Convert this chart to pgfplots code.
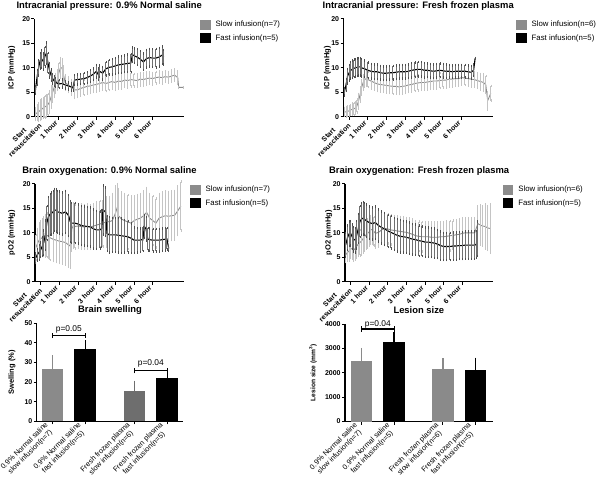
\documentclass[border=0pt]{standalone}
\usepackage{pgfplots}
\pgfplotsset{compat=1.18}
\usepackage{pgfplotstable}
\usepackage{fontspec}
\setmainfont{Liberation Sans}
\definecolor{slowline}{HTML}{8C8C8C}
\definecolor{slowerr}{HTML}{C4C4C4}
\definecolor{fasterr}{HTML}{707070}
\definecolor{slowbar}{HTML}{8A8A8A}
\definecolor{slowbarB}{HTML}{6E6E6E}

\pgfplotstableread{
t v e
-15 5.5 0.8
-10 8.0 1.5
-5 10.0 1.6
0 11.5 1.6
5 11.8 1.8
10 11.3 1.6
15 12.3 2.0
20 13.0 2.2
25 11.0 2.0
30 9.5 1.5
35 8.5 1.2
40 7.8 1.0
45 7.3 1.0
50 7.0 0.9
60 6.7 0.8
70 6.8 0.8
80 6.5 0.7
90 6.3 0.7
100 6.1 0.7
105 6.0 0.6
110 7.5 1.0
120 7.6 1.0
130 7.7 1.0
140 7.8 1.1
150 8.0 1.1
160 8.3 1.2
170 8.7 1.2
180 9.3 1.3
185 8.7 1.2
190 9.3 1.2
200 8.9 1.3
210 9.8 1.4
220 10.1 1.5
230 10.2 1.6
240 10.4 1.6
250 10.6 1.7
260 10.7 1.7
270 10.8 1.7
280 10.9 1.8
290 11.0 1.8
295 12.7 1.5
300 12.5 1.5
310 12.2 1.6
320 11.8 1.6
330 11.2 1.7
340 11.9 1.8
350 12.1 1.8
360 12.0 1.8
370 12.0 1.9
380 12.2 1.9
390 12.6 1.8
395 12.2 1.5
}\icpNSfast

\pgfplotstableread{
t v e
-15 0.5 1.2
-10 0.8 1.5
-5 1.0 1.8
0 1.3 2.0
5 1.5 2.0
10 1.8 2.0
15 2.0 2.2
20 2.2 2.2
25 2.5 2.2
30 3.0 2.2
35 4.0 2.2
40 5.0 2.0
45 6.0 2.0
50 6.8 2.0
55 7.5 2.0
60 9.0 2.0
65 10.0 2.0
70 10.0 1.8
75 8.5 1.8
80 7.0 1.5
90 6.5 1.5
100 6.0 1.5
110 5.5 1.7
120 5.5 1.5
130 5.8 1.5
140 6.0 1.5
150 6.2 1.5
160 6.3 1.5
170 6.5 1.5
180 6.6 1.5
190 6.8 1.5
200 7.0 1.5
210 6.8 1.6
220 7.0 1.5
230 7.2 1.5
240 7.0 1.5
250 7.3 1.5
260 7.2 1.4
270 7.5 1.4
280 7.4 1.4
290 7.6 1.4
300 7.5 1.3
310 7.4 1.3
320 7.7 1.3
330 7.6 1.3
340 7.8 1.3
350 7.9 1.2
360 7.8 1.2
370 8.0 1.2
380 8.1 1.2
390 8.0 1.2
400 8.2 1.1
410 8.1 1.1
420 8.3 1.2
430 8.5 1.2
440 8.0 1.3
443 6.0 0
457 6.0 0
}\icpNSslow

\pgfplotstableread{
t v e
-15 5.1 0.8
-10 6.5 1.2
-5 8.3 1.5
0 9.0 1.6
5 9.5 1.7
10 9.7 1.8
15 9.9 1.8
20 10.0 1.8
25 10.1 1.8
30 10.2 1.8
35 10.2 1.8
40 10.0 1.8
50 9.8 1.7
60 9.5 1.6
70 9.3 1.5
80 9.2 1.5
90 9.2 1.5
100 9.0 1.4
110 8.9 1.4
120 8.9 1.4
130 9.0 1.4
140 9.0 1.4
150 9.1 1.4
160 9.2 1.4
170 9.2 1.4
180 9.2 1.4
190 9.3 1.4
200 9.5 1.5
210 9.6 1.5
220 9.7 1.5
230 9.7 1.5
240 9.5 1.5
250 9.5 1.4
260 9.4 1.4
270 9.3 1.4
280 9.4 1.4
290 9.5 1.4
300 9.4 1.4
310 9.3 1.4
320 9.3 1.3
330 9.2 1.3
340 9.3 1.3
350 9.3 1.3
360 9.3 1.3
370 9.3 1.3
380 9.2 1.3
390 9.1 1.3
398 9.5 1.2
403 12.0 0
}\icpFFPfast

\pgfplotstableread{
t v e
-15 1.0 0.8
-10 1.0 1.0
-5 1.1 1.0
0 1.2 1.0
5 1.4 1.0
10 1.5 1.2
15 1.6 1.2
20 1.8 1.2
25 2.2 1.3
30 3.2 1.5
35 4.5 1.5
40 6.0 1.5
45 7.0 1.5
50 7.6 1.5
55 7.8 1.5
60 7.6 1.5
70 7.3 1.5
80 7.0 1.5
90 6.7 1.5
100 6.6 1.5
110 6.5 1.5
120 6.4 1.5
130 6.3 1.5
140 6.2 1.5
150 6.2 1.5
160 6.1 1.5
170 6.2 1.5
180 6.3 1.5
190 6.5 1.5
200 6.6 1.5
210 6.8 1.5
220 6.9 1.5
230 7.0 1.5
240 7.0 1.5
250 7.1 1.5
260 7.2 1.5
270 7.3 1.5
280 7.3 1.5
290 7.4 1.5
300 7.5 1.5
310 7.5 1.5
320 7.7 1.5
330 7.7 1.5
340 7.8 1.5
350 7.8 1.4
360 8.0 1.4
370 7.9 1.4
380 7.8 1.5
390 7.7 1.5
400 7.6 1.5
410 7.4 1.5
420 7.2 1.6
430 7.0 1.7
437 6.5 1.8
443 3.3 1.8
453 4.8 1.5
}\icpFFPslow

\pgfplotstableread{
t v e
-16 4.8 1.0
-11 5.5 1.2
-5 6.0 1.5
0 6.5 1.5
5 7.2 2.0
10 8.0 2.5
15 9.5 3.0
20 12.0 3.5
25 13.3 4.0
30 13.8 4.2
35 14.0 4.3
40 14.3 4.3
45 14.7 4.3
50 14.6 4.3
55 14.3 4.3
60 14.2 4.3
70 14.0 4.3
80 14.3 4.3
90 13.5 4.2
95 12.3 4.2
100 12.0 4.1
110 12.0 4.1
120 11.8 4.0
130 11.5 4.0
140 11.4 4.0
150 11.3 4.0
160 11.2 4.0
170 10.8 4.0
180 10.6 3.9
190 10.6 3.8
196 10.9 3.8
200 14.7 5.0
208 14.3 5.0
213 9.9 3.6
220 9.6 3.6
230 9.6 3.5
240 9.6 3.5
250 9.5 3.5
260 9.4 3.5
270 9.3 3.3
280 9.2 3.2
290 8.9 3.0
300 8.5 2.6
310 8.5 2.5
320 8.5 2.4
328 8.7 2.4
333 11.3 2.4
338 10.8 2.4
344 8.7 2.3
350 8.6 2.3
360 8.5 2.3
370 8.5 2.3
380 8.5 2.3
390 8.6 2.3
400 8.7 2.3
405 8.8 2.2
411 6.8 0.5
}\oxNSfast

\pgfplotstableread{
t v e
-15 7.0 2.5
-10 7.8 3.0
-5 8.5 3.5
0 8.8 3.5
5 9.0 3.8
10 9.2 4.0
15 9.4 4.3
20 9.5 4.5
25 9.3 4.5
30 9.0 4.5
40 8.7 4.5
50 8.5 4.5
60 8.3 4.5
70 8.2 4.5
80 8.0 4.5
90 7.5 4.5
95 7.3 4.5
100 10.8 4.5
105 11.5 4.5
110 11.3 4.5
120 11.4 4.5
130 11.3 4.5
140 11.2 4.5
150 11.3 4.5
160 11.2 4.5
170 11.4 4.5
180 11.6 4.6
190 11.8 4.7
200 12.0 4.8
210 12.2 5.0
220 12.3 5.0
230 12.5 5.5
240 14.0 5.5
245 15.0 5.0
250 13.5 5.5
260 12.8 5.5
270 12.5 5.5
280 12.2 5.5
290 12.0 5.5
300 12.5 5.0
310 12.8 5.0
320 13.0 5.0
330 13.5 5.0
340 14.2 5.0
350 13.0 5.0
360 12.5 5.0
370 12.0 5.0
380 13.0 5.0
390 13.3 5.0
400 13.5 5.0
410 13.4 5.0
420 13.5 5.0
430 13.6 5.0
440 14.5 5.0
450 15.5 5.0
}\oxNSslow

\pgfplotstableread{
t v e
-16 7.5 2.5
-10 9.0 2.5
-5 9.8 2.5
0 9.9 2.5
5 9.2 2.5
10 8.7 2.5
15 8.5 2.5
20 9.6 2.8
25 10.9 3.0
30 12.3 3.2
35 12.8 3.3
40 13.0 3.3
45 12.8 3.3
50 12.5 3.3
60 12.1 3.3
70 11.9 3.3
80 12.1 3.3
90 11.5 3.3
100 11.1 3.3
110 10.8 3.3
120 10.4 3.3
130 10.1 3.3
140 9.8 3.3
150 9.5 3.3
160 9.3 3.3
170 9.2 3.2
180 9.1 3.2
190 8.9 3.2
200 8.7 3.1
210 8.6 3.1
220 8.4 3.1
230 8.3 3.0
240 8.1 3.0
250 8.1 3.0
260 8.0 3.0
270 7.9 3.0
280 7.7 2.9
290 7.4 2.9
300 7.2 2.8
310 7.2 2.8
320 7.2 2.8
330 7.3 2.8
340 7.3 2.8
350 7.4 2.8
360 7.4 2.8
370 7.5 2.8
380 7.5 2.8
390 7.5 2.8
400 7.5 2.8
405 7.6 2.8
408 8.8 3.5
}\oxFFPfast

\pgfplotstableread{
t v e
-16 5.5 1.5
-10 6.0 1.8
-5 6.3 2.0
0 6.8 2.0
5 6.7 2.0
10 6.5 2.2
15 6.8 2.3
20 7.3 2.5
25 7.7 2.5
30 8.0 2.6
35 8.3 2.7
40 8.8 2.8
45 9.2 2.8
50 9.6 2.8
55 9.9 2.9
60 10.2 2.9
65 10.6 2.9
70 10.7 2.9
75 10.3 2.9
80 9.9 2.9
90 10.1 2.9
100 10.6 2.9
110 10.9 3.0
120 10.8 3.0
130 10.6 3.0
140 10.5 3.0
150 10.4 3.0
160 10.3 3.0
170 10.2 3.0
180 10.1 3.0
190 9.9 3.0
200 9.7 3.0
210 9.4 3.0
220 9.3 3.0
230 9.2 3.0
240 9.2 3.0
250 9.2 3.0
260 9.1 3.0
270 9.1 3.0
280 9.1 3.0
290 9.2 3.0
300 9.2 3.0
310 9.3 3.0
320 9.4 3.0
330 9.5 3.0
340 9.6 3.0
350 9.7 3.0
360 9.9 3.0
370 10.0 3.0
380 10.0 3.0
390 10.0 3.0
400 10.0 3.0
410 11.9 3.5
418 11.6 4.0
425 11.4 4.0
434 11.3 4.5
442 11.0 4.5
450 10.9 5.0
}\oxFFPslow

\pgfplotsset{
  prism/.style={
    scale only axis,
    axis x line*=bottom, axis y line*=left,
    axis line style={line width=1.1pt, black},
    tick align=outside,
    major tick length=3pt,
    every tick/.style={line width=1.0pt, black},
    tick label style={font=\bfseries\fontsize{7}{8}\selectfont},
    yticklabel style={inner xsep=1.2pt},
    /pgf/number format/assume math mode=true,
    /pgf/number format/1000 sep={},
    title style={font=\bfseries\fontsize{9.4}{11}\selectfont, at={(0.5,1)}, anchor=base, yshift=4.7pt},
    ylabel style={font=\bfseries\fontsize{7.5}{9}\selectfont, anchor=center},
    clip=false,
  },
  timeaxis/.style={prism,
    width=149.5pt, height=97.7pt,
    xmin=-18, xmax=460, ymin=0, ymax=20,
    xtick={0,60,120,180,240,300,360},
    xticklabels={{Start\\resuscitation},1 hour,2 hour,3 hour,4 hour,5 hour,6 hour},
    xticklabel style={rotate=45, anchor=east, align=center},
    ytick={0,5,10,15,20},
    legend style={draw=none, fill=none, anchor=north west, inner sep=0pt,
      font=\fontsize{7.8}{9}\selectfont, row sep=2.5pt},
    legend cell align=left,
  },
  baraxis/.style={prism,
    xtick={0,1,2.5,3.5},
    xticklabels={{0.9\% Normal saline\\slow infusion(n=7)},{0.9\% Normal saline\\fast infusion(n=5)},{Fresh frozen plasma\\slow infusion(n=6)},{Fresh frozen plasma\\fast infusion(n=5)}},
    xticklabel style={rotate=45, anchor=east, align=center, font=\fontsize{7.3}{8.3}\selectfont},
    bar width=21.5pt,
  },
  slowplot/.style={color=slowline, line width=0.9pt, no markers, forget plot,
    error bars/.cd, y dir=both, y explicit,
    error bar style={color=slowerr, line width=0.95pt},
    error mark options={color=slowerr, mark size=1.2pt, line width=0.6pt}},
  fastplot/.style={color=black, line width=1.1pt, no markers, forget plot,
    error bars/.cd, y dir=both, y explicit,
    error bar style={color=fasterr, line width=0.9pt},
    error mark options={color=fasterr!70!black, mark size=1.2pt, line width=0.6pt}},
  barplot/.style={ybar, bar shift=0pt, fill=#1, draw=none, forget plot,
    error bars/.cd, y dir=plus, y explicit,
    error bar style={color=#1, line width=1.3pt},
    error mark options={color=#1, mark size=5.5pt, line width=1.3pt}},
  bracket/.style={sharp plot, black, line width=1.1pt, unbounded coords=jump, no markers, forget plot},
  slowleg/.style={legend image code/.code={\fill[slowline, draw=none] (0pt,-5pt) rectangle (10.5pt,5pt); \path[draw=none, fill=none] (0pt,0pt) -- (13.5pt,0pt);}},
  fastleg/.style={legend image code/.code={\fill[black, draw=none] (0pt,-5pt) rectangle (10.5pt,5pt); \path[draw=none, fill=none] (0pt,0pt) -- (13.5pt,0pt);}},
}

\begin{document}
\begin{tikzpicture}
\useasboundingbox (0pt,0pt) rectangle (600pt,488pt);

% Panel 1: ICP normal saline
\begin{axis}[timeaxis, at={(34.5pt,371.3pt)}, anchor=south west,
  title={Intracranial pressure: 0.9\% Normal saline}, title style={yshift=-0.5pt},
  ylabel={ICP (mmHg)}, ylabel style={at={(axis description cs:-0.1525,0.5)}},
  legend style={at={(1.107,1)}}]
\addplot[slowplot] table[x=t, y=v, y error=e] {\icpNSslow};
\addplot[fastplot] table[x=t, y=v, y error=e] {\icpNSfast};
\addlegendimage{slowleg}
\addlegendentry{Slow infusion(n=7)}
\addlegendimage{fastleg}
\addlegendentry{Fast infusion(n=5)}
\end{axis}

% Panel 2: ICP FFP
\begin{axis}[timeaxis, at={(343.5pt,371.3pt)}, anchor=south west,
  title={Intracranial pressure: Fresh frozen plasma}, title style={yshift=-0.5pt},
  ylabel={ICP (mmHg)}, ylabel style={at={(axis description cs:-0.108,0.5)}},
  legend style={at={(1.154,1)}}]
\addplot[slowplot] table[x=t, y=v, y error=e] {\icpFFPslow};
\addplot[fastplot] table[x=t, y=v, y error=e] {\icpFFPfast};
\addlegendimage{slowleg}
\addlegendentry{Slow infusion(n=6)}
\addlegendimage{fastleg}
\addlegendentry{Fast infusion(n=5)}
\end{axis}

% Panel 3: pO2 normal saline
\begin{axis}[timeaxis, at={(35pt,206.3pt)}, anchor=south west, width=149pt,
  title={Brain oxygenation: 0.9\% Normal saline},
  ylabel={pO2 (mmHg)}, ylabel style={at={(axis description cs:-0.156,0.5)}},
  legend style={at={(1.04,1)}}]
\addplot[slowplot] table[x=t, y=v, y error=e] {\oxNSslow};
\addplot[fastplot] table[x=t, y=v, y error=e] {\oxNSfast};
\addlegendimage{slowleg}
\addlegendentry{Slow infusion(n=7)}
\addlegendimage{fastleg}
\addlegendentry{Fast infusion(n=5)}
\end{axis}

% Panel 4: pO2 FFP
\begin{axis}[timeaxis, at={(345pt,206.3pt)}, anchor=south west, width=148.3pt,
  title={Brain oxygenation: Fresh frozen plasma},
  ylabel={pO2 (mmHg)}, ylabel style={at={(axis description cs:-0.11,0.5)}},
  legend style={at={(1.063,1)}}]
\addplot[slowplot] table[x=t, y=v, y error=e] {\oxFFPslow};
\addplot[fastplot] table[x=t, y=v, y error=e] {\oxFFPfast};
\addlegendimage{slowleg}
\addlegendentry{Slow infusion(n=6)}
\addlegendimage{fastleg}
\addlegendentry{Fast infusion(n=5)}
\end{axis}

% Panel 5: Brain swelling
\begin{axis}[baraxis, at={(36.7pt,66.7pt)}, anchor=south west,
  width=146.6pt, height=98pt, xmin=-0.48, xmax=3.99, ymin=0, ymax=50,
  ytick={0,10,20,30,40,50},
  title={Brain swelling},
  ylabel={Swelling (\%)}, ylabel style={at={(axis description cs:-0.168,0.5)}}]
\addplot[barplot=slowbar] coordinates {(0,26.6) +- (0,4.3)};
\addplot[barplot=black] coordinates {(1,36.9) +- (0,1.8)};
\addplot[barplot=slowbarB] coordinates {(2.5,15.6) +- (0,2.3)};
\addplot[barplot=black] coordinates {(3.5,22.0) +- (0,1.3)};
\addplot[bracket] coordinates {(0,42.4) (0,45.0) (0.5,nan) (0,43.7) (1,43.7) (0.5,nan) (1,42.4) (1,45.0)};
\addplot[bracket] coordinates {(2.5,24.5) (2.5,27.1) (3,nan) (2.5,25.8) (3.5,25.8) (3,nan) (3.5,24.5) (3.5,27.1)};
\node[font=\fontsize{8.4}{10}\selectfont] at (axis cs:0.5,46.8) {p=0.05};
\node[font=\fontsize{8.4}{10}\selectfont] at (axis cs:3,29.6) {p=0.04};
\end{axis}

% Panel 6: Lesion size
\begin{axis}[baraxis, at={(345pt,66.5pt)}, anchor=south west,
  width=147.7pt, height=97.5pt, xmin=-0.51, xmax=4.03, ymin=0, ymax=4000,
  ytick={0,1000,2000,3000,4000},
  title={Lesion size},
  ylabel={Lesion size (mm\textsuperscript{3})},
  ylabel style={at={(axis description cs:-0.217,0.5)}, font=\bfseries\fontsize{6.6}{8}\selectfont}]
\addplot[barplot=slowbar] coordinates {(0,2495) +- (0,305)};
\addplot[barplot=black] coordinates {(1,3275) +- (0,165)};
\addplot[barplot=slowbar] coordinates {(2.5,2145) +- (0,215)};
\addplot[barplot=black] coordinates {(3.5,2130) +- (0,270)};
\addplot[bracket] coordinates {(0,3690) (0,3900) (0.5,nan) (0,3795) (1,3795) (0.5,nan) (1,3690) (1,3900)};
\node[font=\fontsize{8.4}{10}\selectfont] at (axis cs:0.5,3990) {p=0.04};
\end{axis}
\end{tikzpicture}
\end{document}
